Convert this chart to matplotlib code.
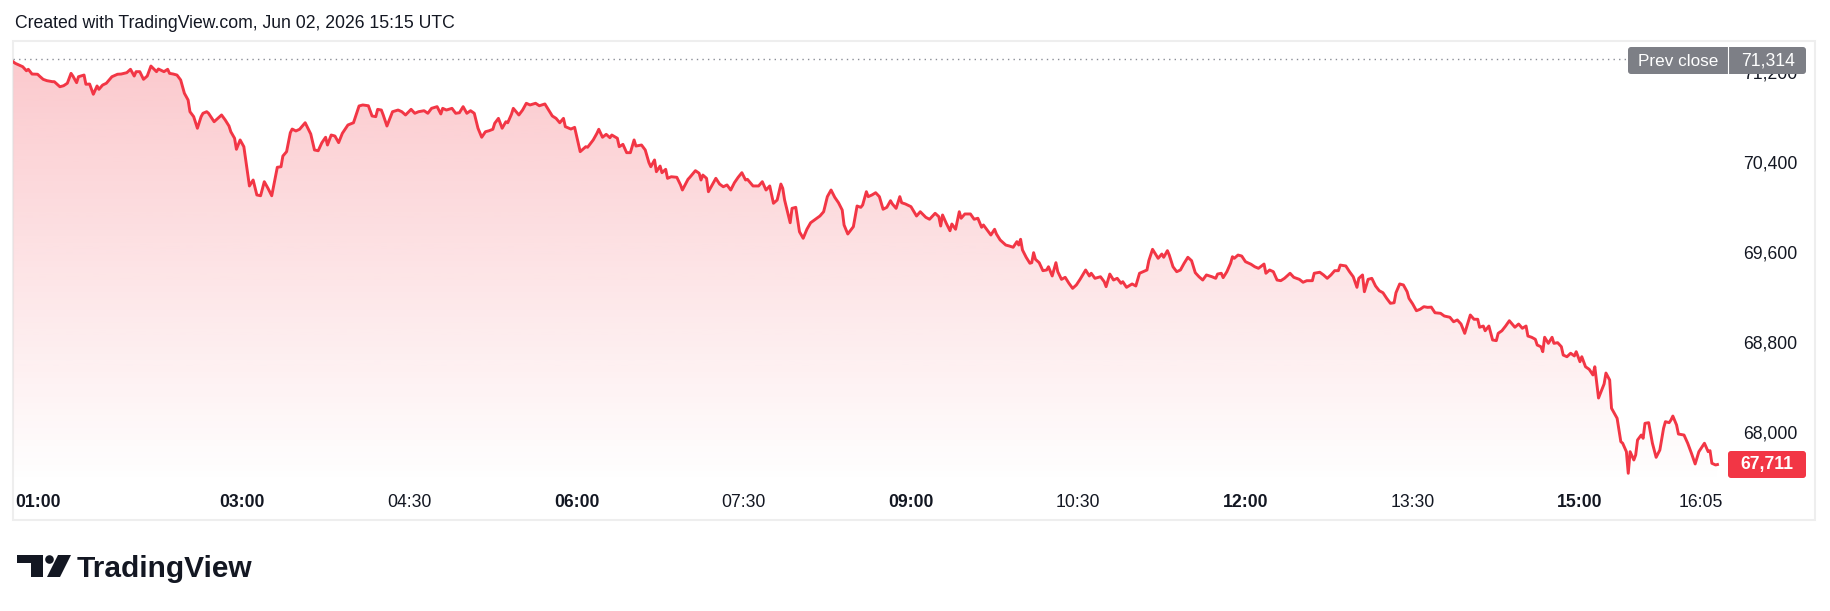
import numpy as np
import matplotlib
matplotlib.use("Agg")
import matplotlib.pyplot as plt
import matplotlib.transforms as mtransforms
from matplotlib.patches import FancyBboxPatch, Polygon, Circle, Rectangle
from matplotlib.lines import Line2D

plt.rcParams['font.family'] = ['Liberation Sans', 'DejaVu Sans']

# DATA
# time of each point in minutes after midnight, price at that time
times = [57, 58, 62, 64, 65, 67, 70, 71, 73, 75, 78, 79, 82, 84, 86, 88, 89, 91, 92, 95,
         96, 98, 100, 102, 103, 105, 107, 110, 113, 115, 118, 120, 122, 123, 125, 127, 129, 131, 134, 135,
         138, 140, 141, 143, 145, 147, 149, 151, 152, 154, 156, 158, 159, 161, 162, 165, 167, 169, 171, 173,
         174, 176, 177, 179, 181, 182, 184, 186, 188, 190, 192, 194, 196, 198, 199, 201, 202, 204, 206, 207,
         209, 211, 214, 217, 219, 221, 223, 225, 226, 228, 230, 232, 234, 237, 240, 243, 245, 248, 250, 252,
         253, 255, 256, 258, 260, 261, 264, 266, 268, 271, 273, 275, 278, 280, 282, 285, 287, 288, 290, 293,
         295, 297, 299, 301, 303, 305, 307, 309, 311, 313, 315, 316, 318, 320, 322, 323, 325, 326, 329, 331,
         333, 335, 338, 340, 343, 345, 347, 349, 351, 353, 354, 357, 359, 362, 365, 366, 369, 371, 372, 374,
         376, 378, 379, 382, 383, 385, 387, 389, 391, 392, 395, 397, 399, 400, 402, 403, 405, 406, 408, 409,
         411, 414, 416, 417, 420, 421, 424, 426, 427, 428, 430, 431, 433, 435, 437, 439, 441, 443, 445, 447,
         449, 451, 452, 455, 458, 460, 462, 464, 466, 468, 470, 471, 472, 475, 476, 478, 480, 482, 484, 486,
         488, 491, 493, 495, 497, 499, 501, 503, 504, 506, 509, 511, 513, 514, 516, 517, 519, 521, 523, 525,
         527, 529, 530, 532, 534, 535, 537, 540, 543, 545, 548, 550, 553, 555, 556, 557, 559, 561, 562, 564,
         566, 567, 569, 572, 574, 576, 578, 579, 581, 583, 585, 586, 588, 589, 591, 593, 595, 597, 598, 599,
         600, 602, 604, 605, 606, 607, 609, 611, 613, 614, 616, 618, 619, 621, 623, 625, 627, 629, 631, 634,
         636, 637, 639, 642, 644, 645, 647, 649, 651, 653, 654, 656, 659, 661, 663, 665, 667, 668, 670, 673,
         675, 676, 678, 679, 681, 683, 685, 687, 689, 691, 693, 695, 697, 699, 702, 704, 705, 707, 708, 710,
         712, 713, 714, 716, 718, 720, 723, 725, 727, 730, 731, 733, 735, 737, 739, 741, 744, 746, 749, 751,
         753, 756, 757, 760, 762, 764, 766, 768, 770, 771, 774, 776, 778, 780, 781, 783, 784, 786, 788, 790,
         792, 794, 796, 798, 800, 801, 803, 805, 807, 808, 810, 812, 814, 816, 818, 820, 822, 825, 827, 830,
         832, 834, 836, 838, 841, 843, 845, 846, 848, 849, 851, 853, 855, 856, 858, 860, 862, 865, 867, 869,
         871, 872, 874, 876, 877, 879, 880, 881, 883, 885, 886, 888, 890, 891, 893, 895, 897, 898, 900, 901,
         903, 905, 907, 908, 910, 913, 914, 916, 917, 920, 922, 923, 925, 926, 927, 929, 930, 931, 933, 934,
         935, 937, 939, 941, 943, 945, 946, 948, 949, 950, 952, 953, 956, 958, 960, 962, 964, 966, 967, 969,
         970, 971, 973, 974]
prices = [71289, 71277, 71247, 71211, 71224, 71182, 71180, 71164, 71135, 71123, 71114, 71114, 71069, 71078, 71100, 71188, 71164, 71105, 71158, 71173,
          71091, 71093, 71002, 71076, 71046, 71084, 71100, 71158, 71180, 71182, 71194, 71224, 71164, 71203, 71203, 71135, 71164, 71253, 71203, 71227,
          71203, 71224, 71188, 71182, 71173, 71129, 71011, 70951, 70847, 70803, 70700, 70803, 70833, 70847, 70833, 70758, 70788, 70818, 70773, 70720,
          70669, 70611, 70513, 70596, 70536, 70418, 70187, 70240, 70107, 70100, 70225, 70166, 70100, 70269, 70353, 70358, 70453, 70492, 70660, 70693,
          70676, 70691, 70749, 70649, 70507, 70500, 70572, 70620, 70551, 70640, 70631, 70572, 70655, 70729, 70749, 70898, 70907, 70900, 70809, 70803,
          70868, 70862, 70818, 70720, 70803, 70847, 70862, 70847, 70818, 70868, 70833, 70847, 70856, 70833, 70877, 70892, 70827, 70877, 70862, 70877,
          70833, 70838, 70892, 70833, 70856, 70833, 70700, 70620, 70669, 70678, 70691, 70744, 70788, 70700, 70758, 70749, 70824, 70877, 70818, 70862,
          70922, 70907, 70922, 70900, 70916, 70862, 70809, 70788, 70749, 70788, 70714, 70693, 70708, 70492, 70536, 70531, 70596, 70655, 70691, 70620,
          70646, 70616, 70640, 70611, 70536, 70557, 70483, 70483, 70596, 70542, 70551, 70507, 70394, 70358, 70418, 70314, 70364, 70305, 70335, 70255,
          70269, 70264, 70196, 70151, 70246, 70264, 70323, 70300, 70240, 70284, 70255, 70136, 70196, 70255, 70204, 70180, 70196, 70151, 70216, 70264,
          70305, 70240, 70246, 70187, 70187, 70225, 70151, 70187, 70033, 70062, 70204, 70166, 70062, 69860, 69988, 69997, 69780, 69722, 69802, 69860,
          69884, 69920, 69958, 70092, 70151, 70086, 70038, 69973, 69840, 69760, 69825, 70009, 69997, 70018, 70136, 70092, 70107, 70127, 70092, 69980,
          69997, 70056, 70027, 69988, 70092, 70038, 70027, 70003, 69920, 69958, 69908, 69891, 69944, 69914, 69831, 69929, 69855, 69789, 69849, 69802,
          69958, 69900, 69938, 69938, 69891, 69900, 69820, 69840, 69796, 69751, 69802, 69760, 69707, 69692, 69662, 69653, 69642, 69692, 69662, 69713,
          69618, 69553, 69500, 69505, 69594, 69535, 69505, 69434, 69440, 69469, 69387, 69505, 69425, 69357, 69375, 69322, 69277, 69307, 69357, 69440,
          69387, 69411, 69366, 69380, 69336, 69292, 69404, 69351, 69366, 69322, 69336, 69286, 69316, 69298, 69411, 69425, 69440, 69523, 69624, 69544,
          69582, 69553, 69612, 69573, 69469, 69425, 69440, 69500, 69553, 69523, 69416, 69380, 69351, 69396, 69380, 69366, 69404, 69411, 69372, 69425,
          69500, 69558, 69544, 69573, 69564, 69514, 69491, 69469, 69455, 69493, 69411, 69440, 69425, 69351, 69345, 69366, 69411, 69375, 69357, 69331,
          69345, 69345, 69411, 69420, 69396, 69366, 69396, 69434, 69434, 69484, 69476, 69425, 69380, 69286, 69366, 69396, 69247, 69357, 69366, 69298,
          69256, 69238, 69188, 69144, 69149, 69238, 69316, 69307, 69247, 69188, 69138, 69078, 69091, 69114, 69108, 69110, 69060, 69055, 69031, 69020,
          68980, 68996, 68960, 68877, 69040, 69002, 69002, 68931, 68942, 68900, 68942, 68818, 68812, 68877, 68900, 68942, 68989, 68931, 68960, 68922,
          68942, 68853, 68842, 68824, 68773, 68758, 68714, 68842, 68788, 68842, 68788, 68794, 68758, 68684, 68669, 68700, 68676, 68714, 68625, 68669,
          68580, 68557, 68507, 68580, 68302, 68427, 68524, 68462, 68211, 68122, 67914, 67900, 67825, 67633, 67825, 67751, 67796, 67929, 67973, 67944,
          68077, 68083, 67900, 67775, 67840, 68033, 68092, 68083, 68107, 68142, 68062, 67982, 67973, 67900, 67811, 67716, 67825, 67876, 67900, 67825,
          67834, 67722, 67707, 67711]

prev_close = 71314
last_price = 67711
price_ticks = [68000, 68800, 69600, 70400, 71200]
time_ticks = [60, 180, 270, 360, 450, 540, 630, 720, 810, 900, 965]
time_labels = ["01:00", "03:00", "04:30", "06:00", "07:30", "09:00",
               "10:30", "12:00", "13:30", "15:00", "16:05"]
bold_labels = ["01:00", "03:00", "06:00", "09:00", "12:00", "15:00"]

RED = "#f23645"
TXT = "#131722"
W, H = 1830, 611

fig = plt.figure(figsize=(W / 100, H / 100), dpi=100)
inch = fig.dpi_scale_trans


def pin(x, y):
    # pixel position (from top left) -> inches
    return x / 100, (H - y) / 100


# price pane
ax = fig.add_axes([13 / W, 1 - 484 / H, (1726 - 13) / W, (484 - 42) / H])
x0, x1 = 56.77, 978.6
y0, y1 = 67537.8, 71466.7

# gradient area under the line
grad = np.zeros((256, 1, 4))
grad[..., :3] = np.array([242, 54, 69]) / 255
grad[:, 0, 3] = np.linspace(0.0, 0.28, 256)
im = ax.imshow(grad, extent=[x0, x1, y0, y1], origin="lower", aspect="auto",
               interpolation="bilinear", zorder=1)
area = ax.fill_between(times, prices, y0, facecolor="none", edgecolor="none")
im.set_clip_path(area.get_paths()[0], ax.transData)

ax.plot(times, prices, color=RED, lw=2.1, zorder=3, solid_joinstyle="round")
ax.axhline(prev_close, xmin=0, xmax=(1628 - 13) / (1726 - 13), color="#8a8d96",
           lw=1, ls=(0, (1, 3)), zorder=2)

ax.set_xlim(x0, x1)
ax.set_ylim(y0, y1)
ax.set_facecolor("none")
for s in ax.spines.values():
    s.set_visible(False)

ax.yaxis.tick_right()
ax.set_yticks(price_ticks)
ax.set_yticklabels([f"{v:,}" for v in price_ticks])
ax.tick_params(axis="y", length=0, pad=12.2, labelsize=12.7, labelcolor=TXT)

ax.set_xticks(time_ticks)
ax.set_xticklabels(time_labels)
ax.tick_params(axis="x", length=0, pad=7, labelsize=12.7, labelcolor=TXT)
for lbl in ax.get_xticklabels():
    if lbl.get_text() in bold_labels:
        lbl.set_fontweight("bold")
first = ax.get_xticklabels()[0]
first.set_horizontalalignment("left")
first.set_transform(first.get_transform() +
                    mtransforms.ScaledTranslation(-4 / 100, 0, inch))

# outer frame
fig.add_artist(Rectangle(pin(13, 520), 1802 / 100, 479 / 100, transform=inch,
                         fill=False, ec="#eeeeee", lw=1.5, zorder=-1))

# prev close badge
fig.add_artist(FancyBboxPatch(pin(1628, 74), 178 / 100, 27 / 100, transform=inch,
                              boxstyle="round,pad=0,rounding_size=0.03",
                              fc="#7d7f86", ec="none", zorder=2))
fig.add_artist(Line2D([17.28, 17.28], [(H - 74) / 100, (H - 47) / 100],
                      transform=inch, color="white", lw=0.8, zorder=3))
fig.text(*pin(1678, 61), "Prev close", transform=inch, ha="center", va="center",
         fontsize=12.3, color="white", zorder=4)
fig.text(*pin(1768, 61), f"{prev_close:,}", transform=inch, ha="center", va="center",
         fontsize=12.7, color="white", zorder=4)

# last price badge
fig.add_artist(FancyBboxPatch(pin(1728, 478), 78 / 100, 27 / 100, transform=inch,
                              boxstyle="round,pad=0,rounding_size=0.03",
                              fc=RED, ec="none", zorder=2))
fig.text(*pin(1767, 465), f"{last_price:,}", transform=inch, ha="center", va="center",
         fontsize=12.7, fontweight="bold", color="white", zorder=4)

# header
fig.text(*pin(15, 23), "Created with TradingView.com, Jun 02, 2026 15:15 UTC",
         transform=inch, ha="left", va="center", fontsize=12.7, color=TXT)

# logo
fig.add_artist(Polygon([pin(17, 555), pin(43, 555), pin(43, 577), pin(31, 577),
                        pin(31, 563), pin(17, 563)], closed=True, transform=inch,
                       fc=TXT, ec="none"))
fig.add_artist(Circle(pin(49.5, 559.5), 4.3 / 100, transform=inch, fc=TXT, ec="none"))
fig.add_artist(Polygon([pin(58, 555), pin(71, 555), pin(60, 577), pin(47, 577)],
                       closed=True, transform=inch, fc=TXT, ec="none"))
fig.text(*pin(76.5, 577), "TradingView", transform=inch, ha="left", va="baseline",
         fontsize=21.5, fontweight="bold", color=TXT)

fig.savefig("out.png", dpi=100, facecolor="white")
